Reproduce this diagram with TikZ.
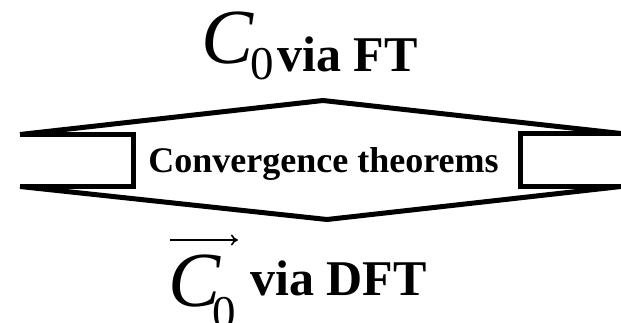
\documentclass[tikz,border=0pt]{standalone}
\usepackage{fontspec}
\setmainfont{Liberation Serif}
\usetikzlibrary{arrows.meta,calc}

\begin{document}
\begin{tikzpicture}[x=1pt,y=-1pt,line join=miter,
  frame/.style={line width=5pt},
  txt/.style={inner sep=0pt,anchor=base west}]
  \useasboundingbox (0,0) rectangle (621,323);
  \coordinate (lt) at (20,134.5); \coordinate (lb) at (20,186.5);
  \coordinate (rt) at (621,133.5); \coordinate (rb) at (621,186.5);
  \coordinate (up) at (323,100.5); \coordinate (dn) at (327,219.5);
  \draw[frame] (lt) -- (up) -- (rt);
  \draw[frame] (lb) -- (dn) -- (rb);
  \draw[frame] (lt) -| (133,186.5) -- (lb);
  \draw[frame] (rt) -| (520,186.5) -- (rb);
  \node[txt,anchor=base,font=\fontsize{36}{40}\selectfont\bfseries] (conv) at (323.5,173) {Convergence theorems};
  % top label
  \node[txt] (ctop) at (201,64) {\fontsize{78}{80}\selectfont\itshape C};
  \node[txt] (ztop) at (250,80) {\fontsize{47}{50}\selectfont 0};
  \node[txt,font=\fontsize{50}{52}\selectfont\bfseries] (ft) at (277,72) {via FT};
  % bottom label
  \node[txt] (cbot) at (168,306) {\fontsize{78}{80}\selectfont\itshape C};
  \node[txt] (zbot) at (212,328) {\fontsize{47}{50}\selectfont 0};
  \node[txt,font=\fontsize{50}{52}\selectfont\bfseries] (dft) at (250,295) {via DFT};
  \coordinate (al) at (170,240); \coordinate (ar) at (238,240);
  \draw[line width=1.6pt,-{To[length=7pt,width=11pt]}] (al) -- (ar);
\end{tikzpicture}
\end{document}
